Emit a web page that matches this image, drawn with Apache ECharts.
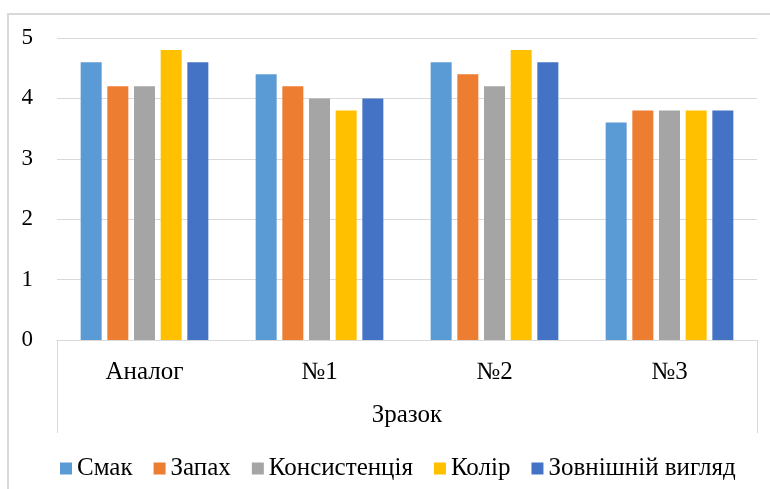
<!DOCTYPE html>
<html>
<head>
<meta charset="utf-8">
<script src="https://cdn.jsdelivr.net/npm/echarts@6/dist/echarts.min.js"></script>
<style>
  html, body { margin: 0; padding: 0; background: #fff; }
  #chart { width: 770px; height: 489px; }
</style>
</head>
<body>
<div id="chart"></div>
<script>
  // samples on the x axis
  var samples = ['Аналог', '№1', '№2', '№3'];
  var seriesNames = ['Смак', 'Запах', 'Консистенція', 'Колір', 'Зовнішній вигляд'];
  var smak = [4.6, 4.4, 4.6, 3.6];
  var zapakh = [4.2, 4.2, 4.4, 3.8];
  var konsystentsiia = [4.2, 4.0, 4.2, 3.8];
  var kolir = [4.8, 3.8, 4.8, 3.8];
  var vyhliad = [4.6, 4.0, 4.6, 3.8];
  var colors = ['#5B9BD5', '#ED7D31', '#A5A5A5', '#FFC000', '#4472C4'];

  var font = 'Liberation Serif, DejaVu Serif, serif';
  var values = [smak, zapakh, konsystentsiia, kolir, vyhliad];

  var chart = echarts.init(document.getElementById('chart'));
  chart.setOption({
    color: colors,
    animation: false,
    grid: { left: 57, right: 13, top: 38, bottom: 149 },
    legend: {
      data: seriesNames,
      left: 55,
      top: 451,
      itemWidth: 12,
      itemHeight: 12,
      itemGap: 21,
      icon: 'rect',
      selectedMode: false,
      textStyle: { fontFamily: font, fontSize: 25, color: '#000' }
    },
    xAxis: {
      type: 'category',
      data: samples,
      name: 'Зразок',
      nameLocation: 'middle',
      nameGap: 63,
      nameTextStyle: { fontFamily: font, fontSize: 25, color: '#000' },
      axisLine: { lineStyle: { color: '#d9d9d9', width: 1 } },
      axisTick: { show: false },
      axisLabel: { fontFamily: font, fontSize: 25, color: '#000', margin: 20 }
    },
    yAxis: {
      type: 'value',
      min: 0,
      max: 5,
      interval: 1,
      axisLine: { show: false },
      axisTick: { show: false },
      splitLine: { lineStyle: { color: '#d9d9d9', width: 1 } },
      axisLabel: { fontFamily: font, fontSize: 23, color: '#000', margin: 24 }
    },
    graphic: [
      // outer chart frame (cropped at right/bottom)
      { type: 'polyline', shape: { points: [[8, 489], [8, 14], [770, 14]] },
        style: { stroke: '#d9d9d9', lineWidth: 2, fill: null } },
      // category label box
      { type: 'polyline', shape: { points: [[57.5, 340], [57.5, 433]] },
        style: { stroke: '#d9d9d9', lineWidth: 1 } },
      { type: 'polyline', shape: { points: [[757.5, 340], [757.5, 433]] },
        style: { stroke: '#d9d9d9', lineWidth: 1 } }
    ],
    series: seriesNames.map(function (n, i) {
      return {
        name: n,
        type: 'bar',
        data: values[i],
        barWidth: 21,
        barGap: '27%',
        itemStyle: { color: colors[i] }
      };
    })
  });
</script>
</body>
</html>
